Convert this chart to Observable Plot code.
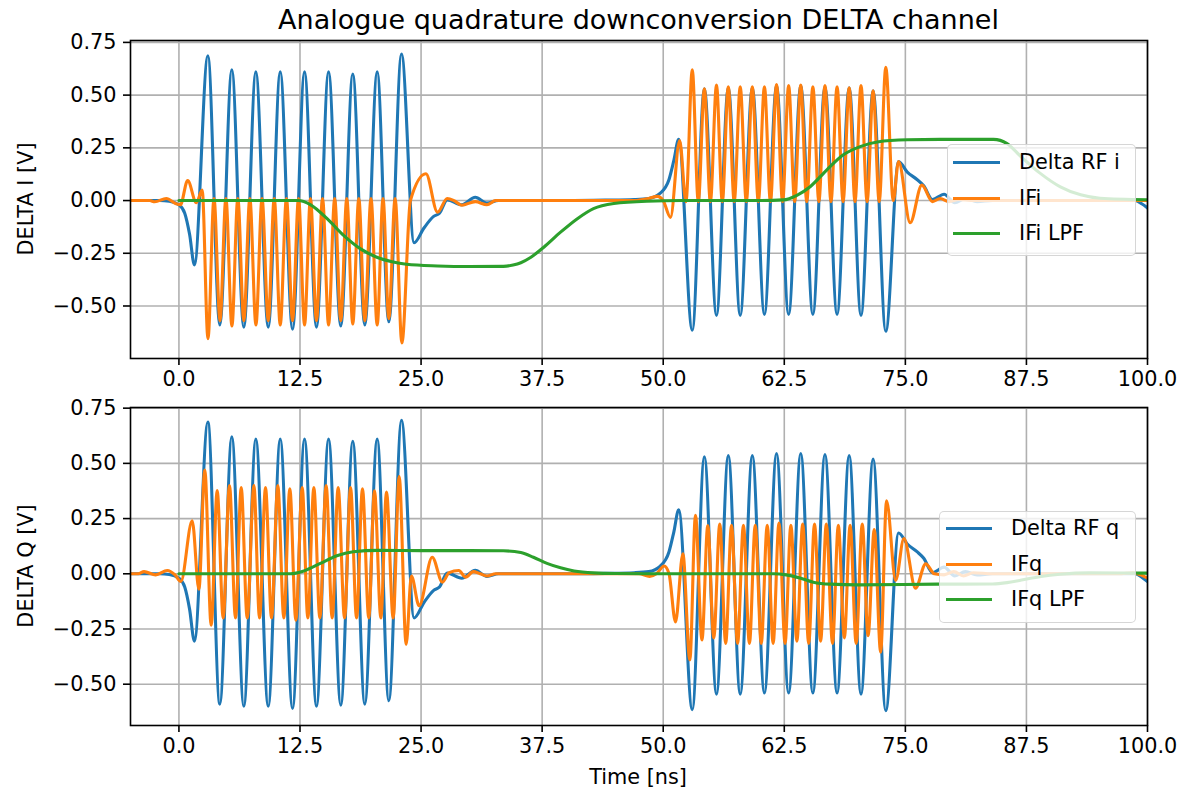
<!DOCTYPE html>
<html><head><meta charset="utf-8">
<script src="https://cdn.jsdelivr.net/npm/d3@7"></script>
<script src="https://cdn.jsdelivr.net/npm/@observablehq/plot@0.6"></script>
<style>
body{margin:0;background:#fff;font-family:"DejaVu Sans",sans-serif;color:#000}
#fig{position:relative;width:1181px;height:792px;overflow:hidden;background:#fff}
.abs{position:absolute}
.title{left:130px;width:1017px;text-align:center;font-size:27px;line-height:32px;white-space:nowrap}
.ylab{font-size:20.8px;line-height:24px;transform:translate(-50%,-50%) rotate(-90deg);white-space:nowrap}
.xlab{font-size:20.8px;line-height:24px;transform:translate(-50%,-50%);white-space:nowrap}
.legend{background:rgba(255,255,255,0.8);border:1.5px solid rgba(204,204,204,0.8);border-radius:5px;box-sizing:border-box}
.lh{height:3px}
.lt{font-size:20.8px;line-height:24px;white-space:nowrap}
</style></head>
<body><div id="fig"></div>
<script>
// ---- data: [time ns, volts] ----
const xTicks = [0, 12.5, 25, 37.5, 50, 62.5, 75, 87.5, 100];
const yTicks = [-0.5, -0.25, 0, 0.25, 0.5, 0.75];

const deltaRF = [[-5,0],[-2,0],[-1,-0.003],[0,-0.02],[0.6,-0.06],[1.1,-0.16],[1.6,-0.305],[2.99,0.687],[4.22,-0.59],[5.46,0.62],[6.7,-0.6],[7.94,0.61],[9.22,-0.6],[10.46,0.61],[11.73,-0.61],[12.97,0.61],[14.2,-0.6],[15.45,0.61],[16.71,-0.595],[17.95,0.6],[19.19,-0.59],[20.47,0.61],[21.67,-0.575],[22.98,0.695],[24.28,-0.2],[25.3,-0.13],[26.3,-0.075],[26.9,-0.06],[27.7,0.003],[29.2,-0.02],[30.6,0.016],[31.8,-0.012],[33,0],[36,0],[40,0],[44,0.002],[47,0.005],[48.5,0.01],[49.7,0.035],[50.6,0.1],[51.1,0.19],[51.6,0.29],[53.0,-0.615],[54.25,0.53],[55.5,-0.545],[56.72,0.535],[57.95,-0.545],[59.2,0.535],[60.45,-0.54],[61.7,0.545],[62.95,-0.54],[64.2,0.545],[65.45,-0.54],[66.7,0.54],[67.95,-0.54],[69.2,0.535],[70.42,-0.545],[71.67,0.52],[72.98,-0.62],[74.3,0.185],[75.2,0.135],[76.2,0.1],[76.9,0.07],[77.8,0.005],[79.0,0.03],[80.1,-0.01],[81.2,0.01],[82.4,-0.005],[84,0],[90,0],[96,0],[98.7,0],[99.4,-0.015],[100,-0.035]];

const ifI = [[-5,0],[-3,0],[-2.5,-0.006],[-1.3,0.01],[-0.3,-0.015],[0.15,-0.02],[0.9,0.095],[1.8,-0.01],[2.4,0.05],[3.0,-0.655],[3.62,0.01],[4.24,-0.57],[4.85,0.01],[5.47,-0.595],[6.08,0.01],[6.7,-0.57],[7.32,0.01],[7.95,-0.59],[8.58,0.01],[9.22,-0.57],[9.84,0.01],[10.46,-0.59],[11.1,0.01],[11.73,-0.57],[12.35,0.01],[12.97,-0.59],[13.58,0.01],[14.2,-0.57],[14.83,0.01],[15.45,-0.59],[16.08,0.01],[16.71,-0.57],[17.33,0.01],[17.95,-0.585],[18.57,0.01],[19.19,-0.57],[19.83,0.01],[20.47,-0.59],[21.07,0.01],[21.67,-0.56],[22.32,0.01],[23.02,-0.675],[23.9,0],[25.5,0.127],[26.7,-0.055],[27.7,0.01],[28.4,0],[29.2,-0.022],[30.6,-0.005],[31.8,-0.02],[32.7,0],[40,0],[47,0],[48.5,0.01],[49.4,0.02],[50.0,0],[50.75,-0.08],[51.7,0.285],[52.35,-0.005],[53.0,0.62],[53.62,-0.005],[54.25,0.53],[54.87,-0.005],[55.5,0.548],[56.1,-0.005],[56.72,0.54],[57.33,-0.005],[57.95,0.54],[58.58,-0.005],[59.2,0.54],[59.82,-0.005],[60.45,0.54],[61.07,-0.005],[61.7,0.55],[62.32,-0.005],[62.95,0.545],[63.57,-0.005],[64.2,0.548],[64.82,-0.005],[65.45,0.54],[66.07,-0.005],[66.7,0.545],[67.32,-0.005],[67.95,0.54],[68.57,-0.005],[69.2,0.535],[69.8,-0.005],[70.42,0.545],[71.05,-0.005],[71.67,0.52],[72.3,-0.005],[72.98,0.632],[73.75,0],[74.3,0.185],[75.5,-0.105],[76.7,0.073],[77.8,-0.005],[78.6,0.01],[79.5,-0.005],[80.5,0.005],[82,0],[90,0],[100,0]];

const lpfI = [[0,0],[6,0],[12.3,0],[13.6,-0.02],[15.3,-0.086],[17.0,-0.165],[18.75,-0.229],[20.5,-0.27],[22.0,-0.29],[23.5,-0.302],[26.7,-0.31],[30,-0.313],[33.5,-0.312],[34.5,-0.306],[35.3,-0.295],[36.3,-0.27],[37.7,-0.22],[39.4,-0.15],[41.1,-0.087],[42.8,-0.038],[44.9,-0.014],[48.3,-0.003],[52,0],[60,0],[62.4,0.003],[63.8,0.025],[65.2,0.067],[66.9,0.146],[68.6,0.217],[70.4,0.257],[72.1,0.278],[75.2,0.288],[78.6,0.29],[84.1,0.29],[85.5,0.27],[86.9,0.21],[88.9,0.13],[91.0,0.065],[93.1,0.027],[95.1,0.011],[100,0.004]];

const ifQ = [[-5,0],[-4.2,0],[-3.6,0.01],[-2.4,-0.005],[-1.2,0.015],[-0.4,-0.005],[0.2,-0.035],[1.37,0.24],[2.06,-0.07],[2.67,0.47],[3.33,-0.233],[3.95,0.377],[4.57,-0.2],[5.22,0.4],[5.84,-0.2],[6.43,0.39],[7.05,-0.2],[7.74,0.4],[8.32,-0.2],[8.94,0.39],[9.56,-0.2],[10.21,0.4],[10.83,-0.2],[11.45,0.385],[12.07,-0.21],[12.73,0.39],[13.31,-0.2],[13.93,0.39],[14.55,-0.2],[15.2,0.4],[15.82,-0.2],[16.44,0.39],[17.1,-0.2],[17.72,0.39],[18.34,-0.2],[18.95,0.385],[19.6,-0.2],[20.19,0.376],[20.85,-0.2],[21.43,0.37],[22.12,-0.2],[22.74,0.44],[23.46,-0.32],[24.0,-0.01],[24.8,-0.145],[26.15,0.075],[27.2,-0.038],[27.9,0.005],[28.9,0.015],[29.6,-0.015],[30.4,0.01],[31.1,0],[31.8,-0.01],[32.7,0],[40,0],[47.5,0],[48.6,-0.012],[49.3,0],[50.1,0.035],[50.6,0],[51.27,-0.218],[52.03,0.09],[52.75,-0.39],[53.33,0.265],[54.0,-0.3],[54.6,0.218],[55.22,-0.29],[55.84,0.225],[56.45,-0.315],[57.05,0.22],[57.68,-0.315],[58.28,0.22],[58.9,-0.315],[59.5,0.22],[60.12,-0.315],[60.74,0.22],[61.35,-0.315],[61.95,0.23],[62.58,-0.315],[63.18,0.22],[63.8,-0.305],[64.4,0.225],[65.02,-0.315],[65.62,0.225],[66.25,-0.305],[66.84,0.225],[67.48,-0.315],[68.08,0.22],[68.7,-0.29],[69.3,0.22],[69.92,-0.315],[70.55,0.225],[71.15,-0.28],[71.79,0.2],[72.45,-0.355],[73.06,0.33],[74.0,-0.03],[74.85,0.16],[76.05,-0.065],[77.1,0.045],[78.0,0],[79,-0.005],[80,0.01],[81,-0.01],[82,0.005],[84,0],[97,0],[98.5,0.005],[99.3,-0.005],[100,-0.02]];

const lpfQ = [[0,0],[6,0],[11.5,0],[12.9,0.013],[14.6,0.047],[16.3,0.082],[18.0,0.1],[20.5,0.106],[25,0.105],[30,0.105],[33.5,0.104],[35.3,0.096],[36.6,0.075],[38.0,0.047],[39.4,0.027],[40.8,0.013],[42.8,0.004],[45,0.001],[50,0],[61.4,0],[62.7,-0.005],[64.2,-0.02],[65.5,-0.038],[67.3,-0.047],[70.1,-0.05],[78.3,-0.047],[84,-0.046],[85.5,-0.04],[87,-0.028],[89,-0.012],[91,-0.002],[94,0.004],[100,0.003]];

const titleText = "Analogue quadrature downconversion DELTA channel";
const xLabel = "Time [ns]";
const topLabels = ["Delta RF i", "IFi", "IFi LPF"];
const botLabels = ["Delta RF q", "IFq", "IFq LPF"];
const yLabelTop = "DELTA I [V]";
const yLabelBot = "DELTA Q [V]";
const colors = ["#1f77b4", "#ff7f0e", "#2ca02c"];

// ---- drawing ----
const rows = p => p.map(([t, v]) => ({t, v}));
const yFmt = d => (d < 0 ? "\u2212" : "") + Math.abs(d).toFixed(2);
const xFmt = d => d.toFixed(1);

function panel(series, yDomain, height, mt, mb) {
  const lineMarks = series.map((s, i) => Plot.line(rows(s), {
    x: "t", y: "v", stroke: colors[i], strokeWidth: 3.1, curve: "monotone-x", clip: true
  }));
  return Plot.plot({
    width: 1181, height, marginLeft: 130, marginRight: 34, marginTop: mt, marginBottom: mb,
    style: {fontFamily: "DejaVu Sans", fontSize: "20.8px", color: "#000", background: "transparent"},
    x: {domain: [-5, 100]},
    y: {domain: yDomain},
    marks: [
      Plot.gridX(xTicks, {stroke: "#b0b0b0", strokeOpacity: 1, strokeWidth: 1.6}),
      Plot.gridY(yTicks, {stroke: "#b0b0b0", strokeOpacity: 1, strokeWidth: 1.6}),
      ...lineMarks,
      Plot.frame({stroke: "#000", strokeWidth: 1.6}),
      Plot.axisX(xTicks, {tickSize: 7, tickPadding: 6, strokeWidth: 1.6, tickFormat: xFmt, label: null}),
      Plot.axisY(yTicks, {tickSize: 7, tickPadding: 7, strokeWidth: 1.6, tickFormat: yFmt, label: null})
    ]
  });
}

const fig = document.getElementById("fig");
function place(el, left, top) { el.style.position = "absolute"; el.style.left = left + "px"; el.style.top = top + "px"; fig.appendChild(el); return el; }

const topSvg = panel([deltaRF, ifI, lpfI], [-0.749, 0.759], 395, 40, 37);
place(topSvg, 0, 0);
const botSvg = panel([deltaRF, ifQ, lpfQ], [-0.687, 0.753], 397, 12, 67);
place(botSvg, 0, 395);

function div(cls, text) { const d = document.createElement("div"); d.className = "abs " + cls; if (text != null) d.textContent = text; return d; }
place(div("title", titleText), 130, 4);
place(div("ylab", yLabelTop), 26, 199);
place(div("ylab", yLabelBot), 26, 566);
place(div("xlab", xLabel), 638, 777);

function legend(labels, box, handleX, handleW, textX, rowYs) {
  const b = div("legend");
  b.style.width = box.w + "px"; b.style.height = box.h + "px";
  place(b, box.x, box.y);
  labels.forEach((lab, i) => {
    const h = div("lh"); h.style.width = handleW + "px"; h.style.background = colors[i];
    place(h, handleX, rowYs[i] - 1.5);
    const t = div("lt", lab);
    place(t, textX, rowYs[i] - 12);
  });
}
legend(topLabels, {x: 947, y: 144, w: 189, h: 112}, 953, 47, 1019, [162, 198, 233]);
legend(botLabels, {x: 939, y: 511, w: 197, h: 112}, 946, 46, 1011, [528, 564, 599]);
</script>
</body></html>
